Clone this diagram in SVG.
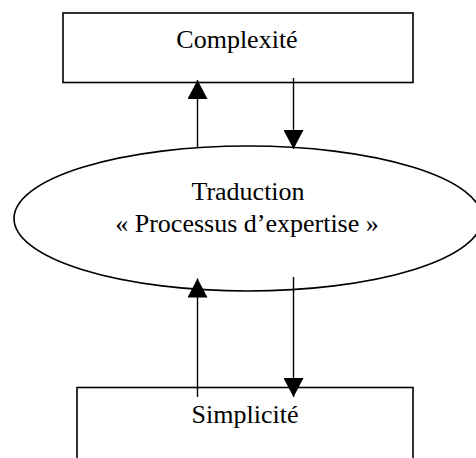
<svg xmlns="http://www.w3.org/2000/svg" width="476" height="458" viewBox="0 0 476 458">
  <style>
    .shape { fill: #fff; stroke: #000; stroke-width: 1.6; }
    .lbl { font-family: "Liberation Serif", "Times New Roman", serif; font-size: 26px; fill: #000; text-anchor: middle; }
    .conn { stroke: #000; stroke-width: 1.4; fill: none; marker-end: url(#arrow); }
  </style>
  <defs>
    <marker id="arrow" markerUnits="userSpaceOnUse" markerWidth="19" markerHeight="20" refX="19" refY="10" orient="auto" viewBox="0 0 19 20">
      <path d="M0,0 L19,10 L0,20 Z" fill="#000"/>
    </marker>
  </defs>
  <g id="complexite">
    <rect class="shape" x="63" y="13" width="350" height="69.5"/>
    <text class="lbl" x="237" y="47.5">Complexité</text>
  </g>
  <g id="traduction">
    <ellipse class="shape" cx="248" cy="218.5" rx="234" ry="72.5"/>
    <text class="lbl" x="248" y="200">Traduction</text>
    <text class="lbl" x="247" y="231.5">« Processus d’expertise »</text>
  </g>
  <g id="simplicite">
    <rect class="shape" x="77" y="387.5" width="336" height="90"/>
    <text class="lbl" x="245" y="422.5">Simplicité</text>
  </g>
  <g id="connectors">
    <line class="conn" x1="197.5" y1="148" x2="197.5" y2="80"/>
    <line class="conn" x1="293.5" y1="78" x2="293.5" y2="149"/>
    <line class="conn" x1="197.5" y1="397" x2="197.5" y2="278.5"/>
    <line class="conn" x1="293.5" y1="277" x2="293.5" y2="397"/>
  </g>
</svg>
